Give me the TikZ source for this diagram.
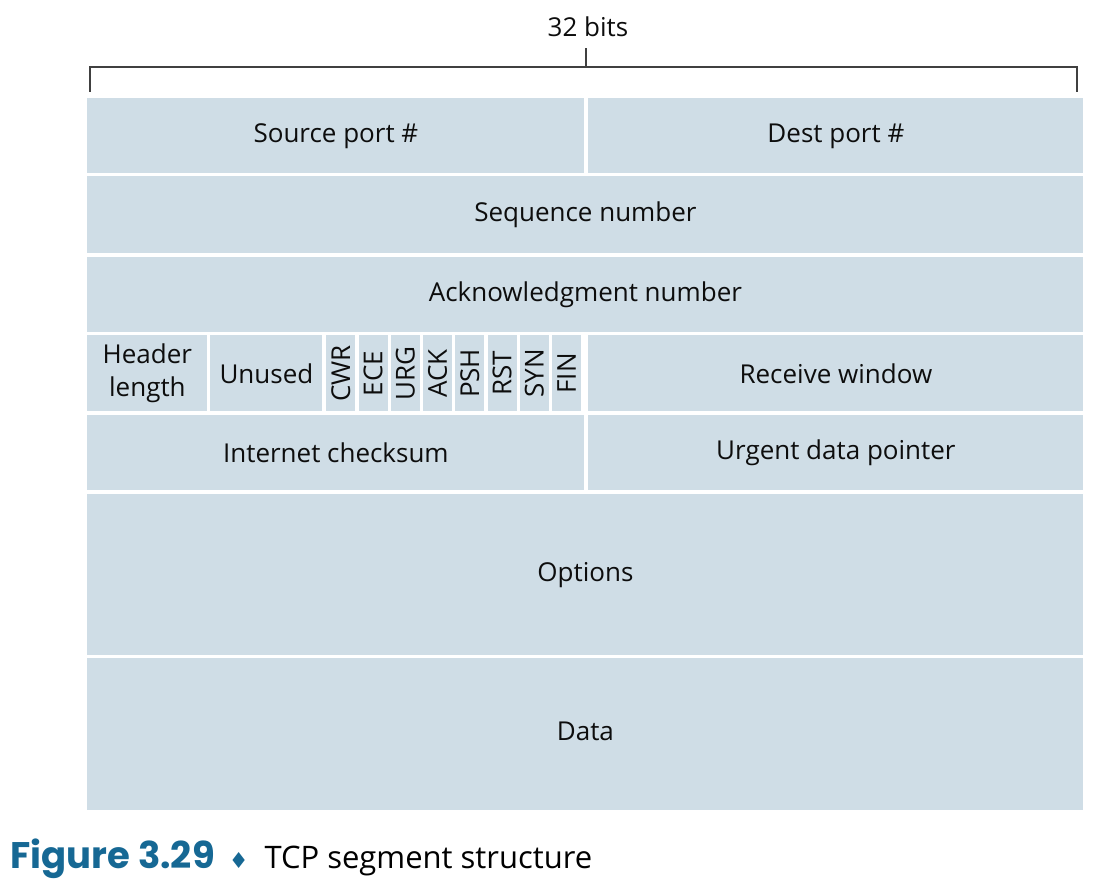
\documentclass[tikz,border=0pt]{standalone}
\usepackage{fontspec}
\setmainfont{Open Sans}
\newfontfamily\captfont{Poppins}
\newfontfamily\symfont{DejaVu Sans}
\usetikzlibrary{positioning}
\definecolor{tcpblue}{RGB}{207,221,230}
\definecolor{figblue}{RGB}{22,104,148}
\tikzset{
  field/.style={fill=tcpblue, anchor=north west, inner sep=0pt, align=center,
    text=black!95, font=\fontsize{13}{16.5}\selectfont},
  bracket/.style={draw=black!75, line width=0.8pt}
}

\begin{document}
\begin{tikzpicture}[x=0.5pt,y=-0.5pt]
\useasboundingbox (0,0) rectangle (1100,882);
% width bracket
\node[font=\fontsize{13}{15}\selectfont, text=black!95] (bits) at (588,27) {32 bits};
\coordinate (bl) at (90,92);
\coordinate (br) at (1077,92);
\coordinate (bm) at (586,67);
\coordinate (bt) at (586,48);
\draw[bracket] (bl) -- ++(0,-25) -| (br);
\draw[bracket] (bm) -- (bt);
% row 1
\node[field, minimum width=248.5pt, minimum height=37.5pt] (src) at (87,98) {\raisebox{-4pt}{Source port \#}};
\node[field, minimum width=247.5pt, minimum height=37.5pt] (dst) at (588,98) {\raisebox{-4pt}{Dest port \#}};
% rows 2 and 3
\node[field, minimum width=498pt, minimum height=38.5pt] (seq) at (87,176) {Sequence number};
\node[field, minimum width=498pt, minimum height=37.5pt] (ack) at (87,257) {Acknowledgment number};
% row 4
\node[field, minimum width=60pt, minimum height=38pt] (hlen) at (87,335) {Header\\length};
\node[field, minimum width=56pt, minimum height=38pt] (unused) at (210,335) {Unused};
\foreach \flag [count=\i from 0] in {CWR,ECE,URG,ACK,PSH,RST,SYN,FIN}
  \node[field, minimum width=14.5pt, minimum height=38pt] (f\flag) at ({326+32.25*\i},335) {\rotatebox{90}{\flag}};
\node[field, minimum width=247.5pt, minimum height=38pt] (rwnd) at (588,335) {Receive window};
% row 5
\node[field, minimum width=248.5pt, minimum height=37.5pt] (cksum) at (87,415) {Internet checksum};
\node[field, minimum width=247.5pt, minimum height=37.5pt] (urgptr) at (588,415) {Urgent data pointer};
% options and data
\node[field, minimum width=498pt, minimum height=80.5pt] (opts) at (87,494) {Options};
\node[field, minimum width=498pt, minimum height=76pt] (data) at (87,658) {\raisebox{3pt}{Data}};
% caption
\node[anchor=base west, inner sep=0pt] (caption) at (10,869)
  {{\captfont\bfseries\fontsize{18.5}{20}\selectfont\color{figblue}Figure 3.29}\hspace{7pt}{\symfont\fontsize{11}{12}\selectfont\color{figblue}♦}\hspace{8pt}{\fontsize{15.5}{18}\selectfont TCP segment structure}};
\end{tikzpicture}
\end{document}
